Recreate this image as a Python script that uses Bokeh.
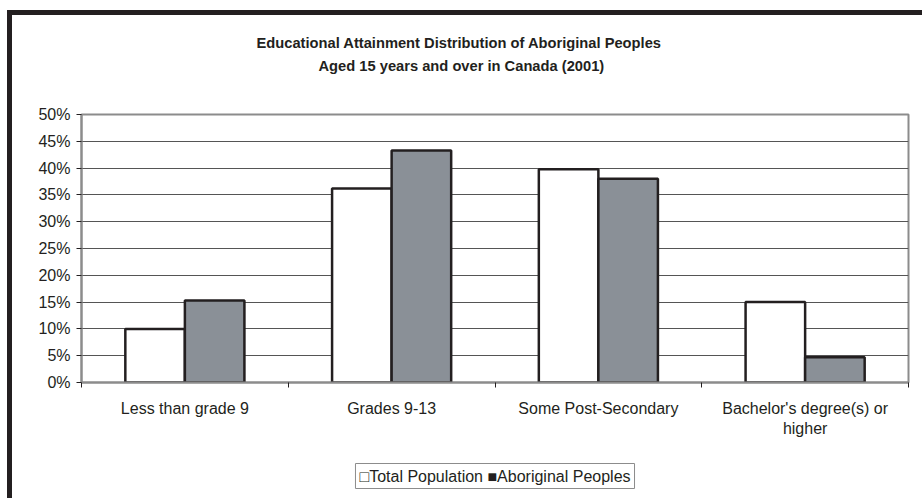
from bokeh.plotting import figure
from bokeh.models import (Range1d, FixedTicker, NumeralTickFormatter, ColumnDataSource, Title)
from bokeh.embed import file_html
from bokeh.resources import INLINE

categories = ["Less than grade 9", "Grades 9-13", "Some Post-Secondary",
              "Bachelor's degree(s) or\nhigher"]
total_population = [10.0, 36.2, 39.8, 15.0]
aboriginal_peoples = [15.3, 43.3, 38.0, 4.7]
series_names = ["Total Population", "Aboriginal Peoples"]
y_ticks = [0, 5, 10, 15, 20, 25, 30, 35, 40, 45, 50]
title_lines = ["Educational Attainment Distribution of Aboriginal Peoples",
               "Aged 15 years and over in Canada (2001)"]

FONT = "Liberation Sans"
INK = "#231f20"
BAR_W = 0.288

n = len(categories)
centers = [i + 0.5 for i in range(n)]
src = ColumnDataSource(dict(
    x_total=[c - BAR_W / 2 for c in centers],
    x_abor=[c + BAR_W / 2 for c in centers],
    total=total_population,
    abor=aboriginal_peoples,
))

p = figure(frame_width=827, frame_height=268, output_backend="svg", toolbar_location=None,
           x_range=Range1d(0, n), y_range=Range1d(0, 50), title=None,
           min_border_left=69, min_border_right=14, min_border_top=99,
           min_border_bottom=20)
p.styles = {"margin-left": "7px", "margin-top": "10px",
            "border-left": "5px solid #231f20", "border-top": "5px solid #231f20"}
p.background_fill_color = "white"
p.border_fill_color = "white"
p.outline_line_color = "#8c8c8c"
p.outline_line_width = 2

p.vbar(x="x_total", top="total", width=BAR_W, source=src,
       fill_color="white", line_color=INK, line_width=2.5)
p.vbar(x="x_abor", top="abor", width=BAR_W, source=src,
       fill_color="#8a9097", line_color=INK, line_width=2.5)

# y axis
p.yaxis.ticker = FixedTicker(ticks=y_ticks)
p.yaxis.formatter = NumeralTickFormatter(format="0")
p.yaxis.major_label_overrides = {t: f"{t}%" for t in y_ticks}
p.yaxis.axis_line_color = "#8c8c8c"
p.yaxis.axis_line_width = 2
p.yaxis.major_tick_line_color = INK
p.yaxis.major_tick_in = 0
p.yaxis.major_tick_out = 5
p.yaxis.minor_tick_line_color = None
p.yaxis.major_label_text_font = FONT
p.yaxis.major_label_text_font_size = "16px"
p.yaxis.major_label_text_color = INK
p.yaxis.major_label_standoff = 6

# x axis: labels at centers, ticks at boundaries (minor)
p.xaxis.ticker = FixedTicker(ticks=centers, minor_ticks=list(range(n + 1)))
p.xaxis.major_label_overrides = {c: lab for c, lab in zip(centers, categories)}
p.xaxis.axis_line_color = "#8c8c8c"
p.xaxis.axis_line_width = 2
p.xaxis.major_tick_line_color = None
p.xaxis.major_tick_in = 0
p.xaxis.major_tick_out = 0
p.xaxis.minor_tick_line_color = INK
p.xaxis.minor_tick_in = 0
p.xaxis.minor_tick_out = 5
p.xaxis.major_label_text_font = FONT
p.xaxis.major_label_text_font_size = "16px"
p.xaxis.major_label_text_color = INK
p.xaxis.major_label_standoff = 12

p.xgrid.grid_line_color = None
p.ygrid.ticker = FixedTicker(ticks=y_ticks)
p.ygrid.grid_line_color = "#555555"
p.ygrid.grid_line_width = 1

# legend as a boxed text strip below the axis
legend_text = "\u25a1" + series_names[0] + " \u25a0" + series_names[1]
p.add_layout(Title(text=legend_text, align="center", standoff=44,
                   text_font=FONT, text_font_size="16px", text_font_style="normal",
                   text_color=INK, padding=4, border_line_color="#8c8c8c",
                   border_line_width=1, background_fill_color="white"), "below")

# title lines (first added sits next to the frame); a blank spacer keeps them up
p.add_layout(Title(text=" ", standoff=36, text_font_size="1px"), "above")
p.add_layout(Title(text=title_lines[1], align="left", offset=237, standoff=4,
                   text_font=FONT, text_font_size="14.7px", text_font_style="bold",
                   text_color=INK), "above")
p.add_layout(Title(text=title_lines[0], align="left", offset=175, standoff=5,
                   text_font=FONT, text_font_size="14.7px", text_font_style="bold",
                   text_color=INK), "above")

open("out.html", "w").write(file_html(p, INLINE))
